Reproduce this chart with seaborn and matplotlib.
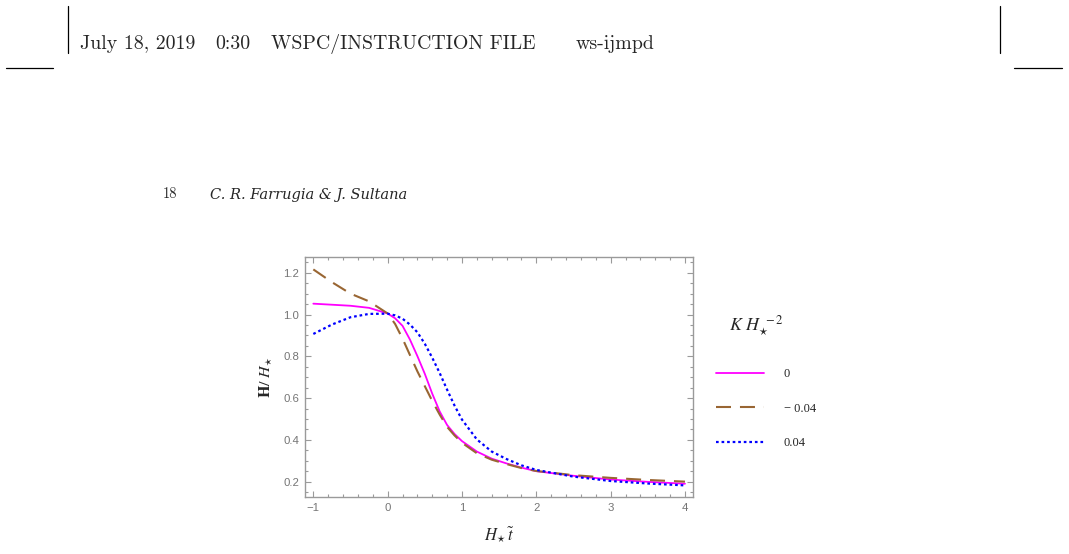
import numpy as np
import pandas as pd
import matplotlib
matplotlib.use("Agg")
import matplotlib.pyplot as plt
from matplotlib.lines import Line2D
from matplotlib.ticker import MultipleLocator
import seaborn as sns

# ---------------- data ----------------
t_vals = [-1.0, -0.75, -0.5, -0.25, 0.0, 0.1, 0.2, 0.3, 0.4, 0.5, 0.6, 0.7,
          0.8, 0.9, 1.0, 1.2, 1.4, 1.6, 1.8, 2.0, 2.5, 3.0, 3.5, 4.0]
h_k0 = [1.052, 1.047, 1.042, 1.032, 1.005, 0.982, 0.946, 0.880, 0.801, 0.716,
        0.621, 0.536, 0.471, 0.428, 0.394, 0.344, 0.310, 0.287, 0.267, 0.250,
        0.228, 0.210, 0.199, 0.190]
h_km = [1.216, 1.155, 1.100, 1.063, 1.005, 0.955, 0.885, 0.806, 0.728, 0.657,
        0.586, 0.521, 0.462, 0.421, 0.386, 0.336, 0.305, 0.284, 0.265, 0.251,
        0.231, 0.218, 0.208, 0.200]
h_kp = [0.907, 0.952, 0.987, 1.003, 1.004, 0.996, 0.980, 0.952, 0.915, 0.860,
        0.793, 0.720, 0.640, 0.564, 0.497, 0.402, 0.344, 0.308, 0.278, 0.256,
        0.224, 0.203, 0.191, 0.182]
k_labels = ["0", "\u2212 0.04", "0.04"]

header_parts = ["July 18, 2019", "0:30", "WSPC/INSTRUCTION FILE", "ws-ijmpd"]
page_number = "18"
authors = "C. R. Farrugia & J. Sultana"

series = {k_labels[0]: h_k0, k_labels[1]: h_km, k_labels[2]: h_kp}
df = pd.concat([pd.DataFrame({"t": t_vals, "H": v, "K": k}) for k, v in series.items()],
               ignore_index=True)

palette = {k_labels[0]: "#ff00ff", k_labels[1]: "#996633", k_labels[2]: "#0000ff"}
dashes = {k_labels[0]: "", k_labels[1]: (7.2, 4.3), k_labels[2]: (1.2, 1.3)}
sizes = {k_labels[0]: 1.3, k_labels[1]: 1.5, k_labels[2]: 1.6}

# ---------------- figure ----------------
sns.set_style("white")
plt.rcParams["font.family"] = ["Liberation Sans", "DejaVu Sans"]
plt.rcParams["mathtext.fontset"] = "stix"

W, H = 1069, 554
fig = plt.figure(figsize=(W / 100, H / 100), dpi=100)
fig.patch.set_facecolor("white")

def fx(px):
    return px / W

def fy(py):
    return 1 - py / H

ax = fig.add_axes([fx(305), fy(497.3), fx(692.7) - fx(305), fy(257.3) - fy(497.3)])

sns.lineplot(data=df, x="t", y="H", hue="K", style="K", size="K",
             hue_order=k_labels, style_order=k_labels, size_order=k_labels,
             palette=palette, dashes=dashes, sizes=sizes,
             estimator=None, sort=False, ax=ax, legend=True)

ax.set_xlim(-1.112, 4.104)
ax.set_ylim(0.125, 1.274)
ax.xaxis.set_major_locator(MultipleLocator(1))
ax.xaxis.set_minor_locator(MultipleLocator(0.2))
ax.yaxis.set_major_locator(MultipleLocator(0.2))
ax.yaxis.set_minor_locator(MultipleLocator(0.05))
ax.set_xticks([-1, 0, 1, 2, 3, 4])
ax.set_yticks([0.2, 0.4, 0.6, 0.8, 1.0, 1.2])
ax.set_yticklabels(["0.2", "0.4", "0.6", "0.8", "1.0", "1.2"])

frame_col = "#9a9a9a"
for sp in ax.spines.values():
    sp.set_visible(True)
    sp.set_color(frame_col)
    sp.set_linewidth(1.0)
ax.tick_params(which="both", direction="in", top=True, right=True,
               bottom=True, left=True, color=frame_col, width=0.8)
ax.tick_params(which="major", length=4.0, labelsize=8.2, labelcolor="#757575", pad=4)
ax.tick_params(which="minor", length=2.2)

ax.set_xlabel(r"$H_{\!\star}\tilde{t}$", fontsize=12, labelpad=9)
ax.set_ylabel(r"$\mathbf{H}/\ H_{\!\star}$", fontsize=11.5, labelpad=7)

# legend
handles, labels = ax.get_legend_handles_labels()
ax.legend(handles, labels, loc="upper left", bbox_to_anchor=(fx(710), fy(362)),
          bbox_transform=fig.transFigure, frameon=False,
          prop={"family": "Liberation Serif", "size": 9},
          handlelength=3.8, handletextpad=1.6, labelspacing=1.8, borderpad=0)
fig.text(fx(729), fy(330), r"$K\ H_{\!\star}^{\ -2}$", fontsize=13, va="baseline", ha="left")

# page header
for txt, xpos in zip(header_parts, [80, 215, 271, 576]):
    fig.text(fx(xpos), fy(49.3), txt, family="cmr10", fontsize=14.3,
             va="baseline", ha="left")
fig.text(fx(163), fy(198.5), page_number, family="cmr10", fontsize=10.5,
         va="baseline", ha="left")
fig.text(fx(210), fy(198.5), authors, family="DejaVu Serif", style="italic",
         fontsize=10.5, va="baseline", ha="left")

for (x0, y0, x1, y1) in [(68, 6, 68, 53), (1000.3, 6, 1000.3, 53),
                         (6, 68.3, 53, 68.3), (1014, 68.3, 1062, 68.3)]:
    fig.add_artist(Line2D([fx(x0), fx(x1)], [fy(y0), fy(y1)], color="black",
                          linewidth=0.9, transform=fig.transFigure))

fig.savefig("out.png", dpi=100, facecolor="white")
